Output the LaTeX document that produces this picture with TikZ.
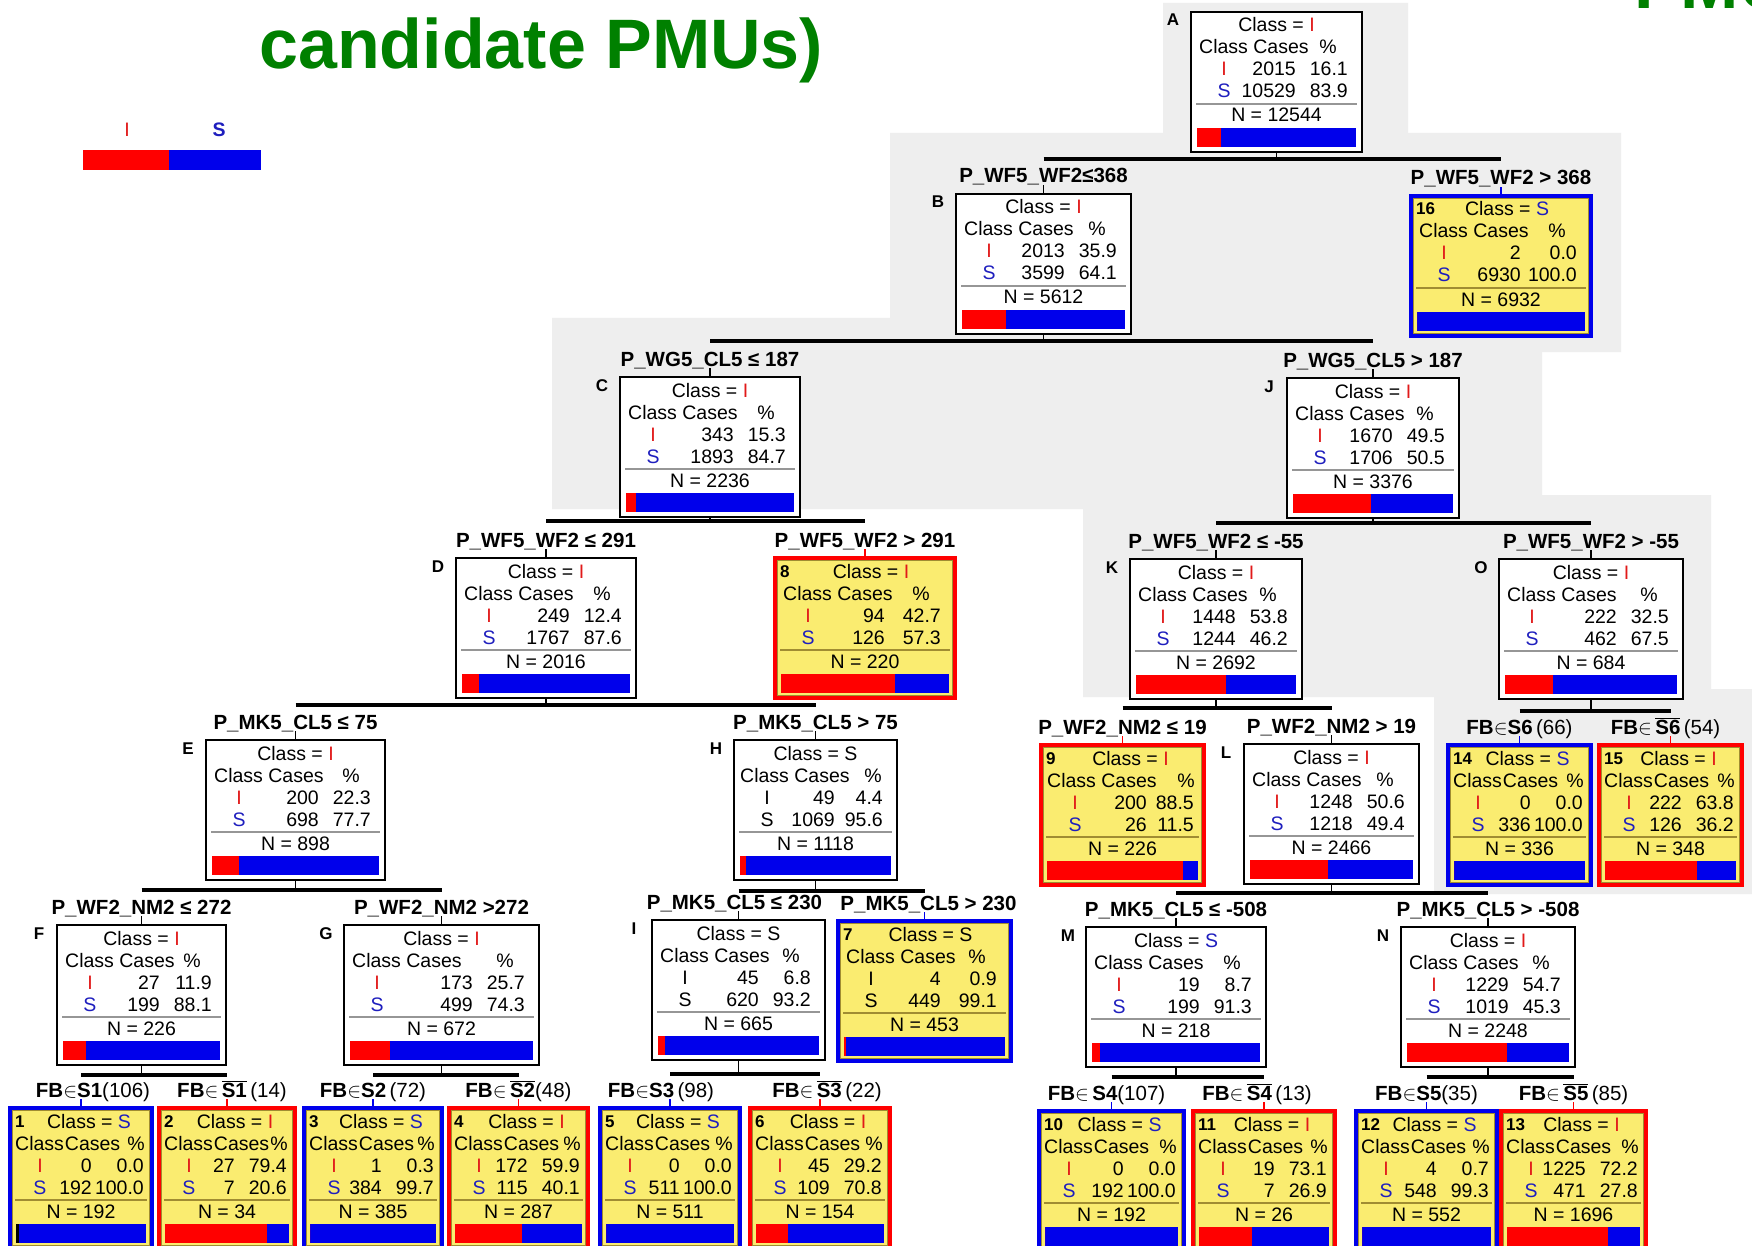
\documentclass[tikz,border=0pt]{standalone}
\usepackage{fontspec}
\setmainfont{Liberation Sans}
\usetikzlibrary{calc}
\definecolor{bgGrey}{RGB}{238,238,238}
\definecolor{leafY}{RGB}{250,236,112}
\definecolor{barR}{RGB}{255,0,0}
\definecolor{barB}{RGB}{0,0,235}
\definecolor{titleG}{RGB}{0,128,0}
\definecolor{sepG}{RGB}{150,150,150}
\definecolor{sepY}{RGB}{160,140,50}
\definecolor{txtB}{RGB}{30,30,190}
\definecolor{txtR}{RGB}{225,25,25}

\newcommand\bodyfont{\fontsize{19.5}{22}\selectfont}
\newcommand\lblfont{\fontsize{20.5}{23}\selectfont\bfseries}
\newcommand\letfont{\fontsize{17}{19}\selectfont\bfseries}

\newcommand\RI{\textcolor{txtR}{I}}
\newcommand\BS{\textcolor{txtB}{S}}
\newcommand\clsI{Class = \RI}
\newcommand\clsS{Class = \BS}
\newcommand\clsK{Class = S}

\newcommand\fbin[2]{FB{\mdseries$\in$}#1{\mdseries#2}}
\newcommand\fbout[2]{FB{\mdseries$\in$}\,$\overline{\mbox{#1}}${\mdseries#2}}

\newcommand\colL{33}\newcommand\colC{66}\newcommand\colP{14}\newcommand\colH{34}
\newcommand\hdrX{8}\newcommand\hdrT{Class Cases}\newcommand\clsX{0}
\newcommand\setcols[7]{\renewcommand\colL{#1}\renewcommand\colC{#2}\renewcommand\colP{#3}\renewcommand\colH{#4}\renewcommand\hdrX{#5}\renewcommand\hdrT{#6}\renewcommand\clsX{#7}}

% name, style, left, top, width, red fraction, separator colour
\newcommand\tbox[7]{%
  \node[#2, minimum width=#5pt] (#1) at (#3,#4) {};
  \fill[barB] ([shift={(6,116)}]#1.north west) rectangle ([shift={(-6,135)}]#1.north east);
  \fill[barR] ([shift={(6,116)}]#1.north west) rectangle ($([shift={(6,135)}]#1.north west)!#6!([shift={(-6,135)}]#1.north east)$);
  \draw[#7, line width=1.5pt] ([shift={(5,92)}]#1.north west) -- ([shift={(-5,92)}]#1.north east);
}
% thin olive lining inside a leaf frame
\newcommand\tlining[1]{\draw[sepY, line width=0.9pt] ([shift={(2.6,2.6)}]#1.north west) rectangle ([shift={(-2.6,-2.6)}]#1.south east);}
% name, class line, I colour, I cases, I pct, S colour, S cases, S pct, N
\newcommand\tcont[9]{%
  \node[txt, anchor=base] (#1-c) at ([shift={(\clsX,20)}]#1.north) {#2};
  \node[txt, anchor=base west] (#1-h) at ([shift={(\hdrX,42)}]#1.north west) {\hdrT};
  \node[txt, anchor=base] (#1-p) at ([shift={(-\colH,42)}]#1.north east) {\%};
  \node[txt, anchor=base, text=#3] (#1-i) at ([shift={(\colL,64)}]#1.north west) {I};
  \node[txt, anchor=base east] (#1-ic) at ([shift={(-\colC,64)}]#1.north east) {#4};
  \node[txt, anchor=base east] (#1-ip) at ([shift={(-\colP,64)}]#1.north east) {#5};
  \node[txt, anchor=base, text=#6] (#1-s) at ([shift={(\colL,86)}]#1.north west) {S};
  \node[txt, anchor=base east] (#1-sc) at ([shift={(-\colC,86)}]#1.north east) {#7};
  \node[txt, anchor=base east] (#1-sp) at ([shift={(-\colP,86)}]#1.north east) {#8};
  \node[txt, anchor=base] (#1-n) at ([shift={(0,110)}]#1.north) {N = #9};
}
\newcommand\tletter[2]{\node[lett] (#1-let) at ([shift={(-18,14)}]#1.north west) {#2};}
\newcommand\tnum[2]{\node[numb] (#1-num) at ([shift={(5,19)}]#1.north west) {#2};}
% parent, left child, right child, y
\newcommand\tsplit[4]{%
  \coordinate (#1-y) at (0,#4);
  \draw[tick] (#1.south) -- (#1.south |- #1-y);
  \draw[hline] (#2.north |- #1-y) -- (#3.north |- #1-y);
}
% child, dx, tick colour, text
\newcommand\tlabel[4]{%
  \node[lbl] (#1-lb) at ([shift={(#2,-11)}]#1.north) {#4};
  \draw[tick, #3] (#1.north) -- ++(0,-9);
}

\begin{document}
\begin{tikzpicture}[x=1pt,y=-1pt,
  inbox/.style={draw=black, line width=2.5pt, fill=white, rectangle, inner sep=0pt, outer sep=0pt, anchor=north west, minimum height=140pt},
  leafR/.style={draw=barR, line width=3.5pt, fill=leafY, rectangle, inner sep=0pt, outer sep=0pt, anchor=north west, minimum height=140pt},
  leafB/.style={leafR, draw=barB},
  txt/.style={inner sep=0pt, font=\bodyfont},
  lbl/.style={inner sep=0pt, font=\lblfont, anchor=base},
  lett/.style={inner sep=0pt, font=\letfont, anchor=base},
  numb/.style={inner sep=0pt, font=\letfont, anchor=base west},
  hline/.style={line width=3.5pt},
  tick/.style={line width=1.2pt},
]
\useasboundingbox (0,0) rectangle (1752,1246);
\clip (0,0) rectangle (1752,1246);
\fill[white] (0,0) rectangle (1752,1246);
\fill[bgGrey] (1163,3) -- (1408,3) -- (1408,133) -- (1621,133) -- (1621,352) -- (1542,352)
  -- (1542,495) -- (1711,495) -- (1711,689) -- (1752,689) -- (1752,894) -- (1434,894)
  -- (1434,697) -- (1083,697) -- (1083,509) -- (552,509) -- (552,318) -- (890,318)
  -- (890,133) -- (1163,133) -- cycle;

% title and legend
\node[anchor=base west, inner sep=0pt, text=titleG, font=\fontsize{70}{80}\selectfont\bfseries] (title) at (259,69) {candidate PMUs)};
\node[anchor=base west, inner sep=0pt, text=titleG, font=\fontsize{70}{80}\selectfont\bfseries] (title2) at (1634,9) {PMUs};
\node[inner sep=0pt, text=txtR, font=\fontsize{19.5}{22}\selectfont] (legI) at (127,130) {I};
\node[inner sep=0pt, text=txtB, font=\fontsize{19.5}{22}\selectfont\bfseries] (legS) at (219,130) {S};
\fill[barR] (83,150) rectangle (169,170);
\fill[barB] (169,150) rectangle (261,170);

% ---------- boxes ----------
\tbox{A}{inbox}{1191}{12}{171}{0.15}{sepG}
\tbox{B}{inbox}{956}{194}{175}{0.27}{sepG}
\tbox{n16}{leafB}{1411}{196}{180}{0}{sepY}
\tbox{C}{inbox}{620}{377}{180}{0.06}{sepG}
\tbox{J}{inbox}{1287}{378}{172}{0.49}{sepG}
\tbox{D}{inbox}{456}{558}{180}{0.10}{sepG}
\tbox{n8}{leafR}{775}{558}{180}{0.68}{sepY}
\tbox{K}{inbox}{1130}{559}{172}{0.565}{sepG}
\tbox{O}{inbox}{1499}{559}{184}{0.28}{sepG}
\tbox{E}{inbox}{206}{740}{179}{0.16}{sepG}
\tbox{H}{inbox}{734}{740}{163}{0.04}{sepG}
\tbox{n9}{leafR}{1041}{745}{163}{0.90}{sepY}
\tbox{L}{inbox}{1244}{744}{175}{0.48}{sepG}
\tbox{n14}{leafB}{1448}{745}{143}{0}{sepY}
\tbox{n15}{leafR}{1599}{745}{143}{0.70}{sepY}
\tbox{F}{inbox}{57}{925}{169}{0.145}{sepG}
\tbox{G}{inbox}{344}{925}{195}{0.216}{sepG}
\tbox{I}{inbox}{652}{920}{173}{0.044}{sepG}
\tbox{n7}{leafB}{838}{921}{173}{0.01}{sepY}
\tbox{M}{inbox}{1086}{927}{180}{0.05}{sepG}
\tbox{N}{inbox}{1401}{927}{174}{0.62}{sepG}
\tbox{n1}{leafB}{10}{1108}{142}{0}{sepY}
\tbox{n2}{leafR}{159}{1108}{136}{0.82}{sepY}
\tbox{n3}{leafB}{304}{1108}{138}{0}{sepY}
\tbox{n4}{leafR}{449}{1108}{139}{0.53}{sepY}
\tbox{n5}{leafB}{600}{1108}{140}{0}{sepY}
\tbox{n6}{leafR}{750}{1108}{140}{0.25}{sepY}
\tbox{n10}{leafB}{1039}{1111}{145}{0}{sepY}
\tbox{n11}{leafR}{1193}{1111}{142}{0.41}{sepY}
\tbox{n12}{leafB}{1356}{1111}{141}{0}{sepY}
\tbox{n13}{leafR}{1501}{1111}{145}{0.76}{sepY}
\tlining{n16}\tlining{n8}\tlining{n9}\tlining{n14}\tlining{n15}\tlining{n7}
\tlining{n1}\tlining{n2}\tlining{n3}\tlining{n4}\tlining{n5}\tlining{n6}
\tlining{n10}\tlining{n11}\tlining{n12}\tlining{n13}
\fill[black] ([shift={(6,116)}]n1.north west) rectangle ([shift={(9,135)}]n1.north west);

% ---------- contents: internal nodes ----------
\setcols{33}{66}{14}{34}{8}{Class Cases}{0}
\tcont{A}{\clsI}{txtR}{2015}{16.1}{txtB}{10529}{83.9}{12544}
\tcont{B}{\clsI}{txtR}{2013}{35.9}{txtB}{3599}{64.1}{5612}
\tcont{C}{\clsI}{txtR}{343}{15.3}{txtB}{1893}{84.7}{2236}
\tcont{J}{\clsI}{txtR}{1670}{49.5}{txtB}{1706}{50.5}{3376}
\tcont{D}{\clsI}{txtR}{249}{12.4}{txtB}{1767}{87.6}{2016}
\tcont{K}{\clsI}{txtR}{1448}{53.8}{txtB}{1244}{46.2}{2692}
\tcont{O}{\clsI}{txtR}{222}{32.5}{txtB}{462}{67.5}{684}
\tcont{E}{\clsI}{txtR}{200}{22.3}{txtB}{698}{77.7}{898}
\tcont{L}{\clsI}{txtR}{1248}{50.6}{txtB}{1218}{49.4}{2466}
\tcont{F}{\clsI}{txtR}{27}{11.9}{txtB}{199}{88.1}{226}
\tcont{G}{\clsI}{txtR}{173}{25.7}{txtB}{499}{74.3}{672}
\tcont{I}{\clsK}{black}{45}{6.8}{black}{620}{93.2}{665}
\tcont{M}{\clsS}{txtR}{19}{8.7}{txtB}{199}{91.3}{218}
\tcont{N}{\clsI}{txtR}{1229}{54.7}{txtB}{1019}{45.3}{2248}
\setcols{33}{62}{14}{24}{6}{Class Cases}{0}
\tcont{H}{\clsK}{black}{49}{4.4}{black}{1069}{95.6}{1118}
\tletter{A}{A}\tletter{B}{B}\tletter{C}{C}\tletter{J}{J}\tletter{D}{D}
\tletter{K}{K}\tletter{O}{O}\tletter{E}{E}\tletter{H}{H}\tletter{L}{L}
\tletter{F}{F}\tletter{G}{G}\tletter{I}{I}\tletter{M}{M}\tletter{N}{N}

% ---------- contents: wide leaves ----------
\setcols{33}{70}{14}{34}{8}{Class Cases}{6}
\tcont{n16}{\clsS}{txtR}{2}{0.0}{txtB}{6930}{100.0}{6932}
\tcont{n8}{\clsI}{txtR}{94}{42.7}{txtB}{126}{57.3}{220}
\tcont{n7}{\clsK}{black}{4}{0.9}{black}{449}{99.1}{453}
\setcols{34}{57}{10}{18}{6}{Class Cases}{8}
\tcont{n9}{\clsI}{txtR}{200}{88.5}{txtB}{26}{11.5}{226}
% ---------- contents: narrow leaves ----------
\setcols{30}{60}{8}{16}{5}{Class\hspace{1pt}Cases}{8}
\tcont{n14}{\clsS}{txtR}{0}{0.0}{txtB}{336}{100.0}{336}
\tcont{n15}{\clsI}{txtR}{222}{63.8}{txtB}{126}{36.2}{348}
\tcont{n1}{\clsS}{txtR}{0}{0.0}{txtB}{192}{100.0}{192}
\tcont{n2}{\clsI}{txtR}{27}{79.4}{txtB}{7}{20.6}{34}
\tcont{n3}{\clsS}{txtR}{1}{0.3}{txtB}{384}{99.7}{385}
\tcont{n4}{\clsI}{txtR}{172}{59.9}{txtB}{115}{40.1}{287}
\tcont{n5}{\clsS}{txtR}{0}{0.0}{txtB}{511}{100.0}{511}
\tcont{n6}{\clsI}{txtR}{45}{29.2}{txtB}{109}{70.8}{154}
\tcont{n10}{\clsS}{txtR}{0}{0.0}{txtB}{192}{100.0}{192}
\tcont{n11}{\clsI}{txtR}{19}{73.1}{txtB}{7}{26.9}{26}
\tcont{n12}{\clsS}{txtR}{4}{0.7}{txtB}{548}{99.3}{552}
\tcont{n13}{\clsI}{txtR}{1225}{72.2}{txtB}{471}{27.8}{1696}
\tnum{n16}{16}\tnum{n8}{8}\tnum{n7}{7}\tnum{n9}{9}\tnum{n14}{14}\tnum{n15}{15}
\tnum{n1}{1}\tnum{n2}{2}\tnum{n3}{3}\tnum{n4}{4}\tnum{n5}{5}\tnum{n6}{6}
\tnum{n10}{10}\tnum{n11}{11}\tnum{n12}{12}\tnum{n13}{13}

% ---------- connectors ----------
\tsplit{A}{B}{n16}{159}
\tsplit{B}{C}{J}{341}
\tsplit{C}{D}{n8}{521}
\tsplit{J}{K}{O}{523}
\tsplit{D}{E}{H}{705}
\tsplit{K}{n9}{L}{708}
\tsplit{O}{n14}{n15}{711}
\tsplit{E}{F}{G}{890}
\tsplit{H}{I}{n7}{891}
\tsplit{L}{M}{N}{893}
\tsplit{F}{n1}{n2}{1075}
\tsplit{G}{n3}{n4}{1075}
\tsplit{I}{n5}{n6}{1074}
\tsplit{M}{n10}{n11}{1077}
\tsplit{N}{n12}{n13}{1077}

% ---------- branch labels ----------
\tlabel{B}{0}{black}{P\_WF5\_WF2≤368}
\tlabel{n16}{0}{barB}{P\_WF5\_WF2 > 368}
\tlabel{C}{0}{black}{P\_WG5\_CL5 ≤ 187}
\tlabel{J}{0}{black}{P\_WG5\_CL5 > 187}
\tlabel{D}{0}{black}{P\_WF5\_WF2 ≤ 291}
\tlabel{n8}{0}{barR}{P\_WF5\_WF2 > 291}
\tlabel{K}{0}{black}{P\_WF5\_WF2 ≤ -55}
\tlabel{O}{0}{black}{P\_WF5\_WF2 > -55}
\tlabel{E}{0}{black}{P\_MK5\_CL5 ≤ 75}
\tlabel{H}{0}{black}{P\_MK5\_CL5 > 75}
\tlabel{n9}{0}{barR}{P\_WF2\_NM2 ≤ 19}
\tlabel{L}{0}{black}{P\_WF2\_NM2 > 19}
\tlabel{n14}{0}{barB}{\fbin{S6}{\,(66)}}
\tlabel{n15}{-5}{barR}{\fbout{S6}{\,(54)}}
\tlabel{F}{0}{black}{P\_WF2\_NM2 ≤ 272}
\tlabel{G}{0}{black}{P\_WF2\_NM2 >272}
\tlabel{I}{-4}{black}{P\_MK5\_CL5 ≤ 230}
\tlabel{n7}{4}{barB}{P\_MK5\_CL5 > 230}
\tlabel{M}{0}{black}{P\_MK5\_CL5 ≤ -508}
\tlabel{N}{0}{black}{P\_MK5\_CL5 > -508}
\tlabel{n1}{12}{barB}{\fbin{S1}{(106)}}
\tlabel{n2}{5}{barR}{\fbout{S1}{\,(14)}}
\tlabel{n3}{0}{barB}{\fbin{S2}{\,(72)}}
\tlabel{n4}{0}{barR}{\fbout{S2}{(48)}}
\tlabel{n5}{-9}{barB}{\fbin{S3}{\,(98)}}
\tlabel{n6}{7}{barR}{\fbout{S3}{\,(22)}}
\tlabel{n10}{-5}{barB}{\fbin{\,S4}{(107)}}
\tlabel{n11}{-7}{barR}{\fbout{S4}{\,(13)}}
\tlabel{n12}{0}{barB}{\fbin{S5}{(35)}}
\tlabel{n13}{0}{barR}{\fbout{S5}{\,(85)}}
\end{tikzpicture}
\end{document}
